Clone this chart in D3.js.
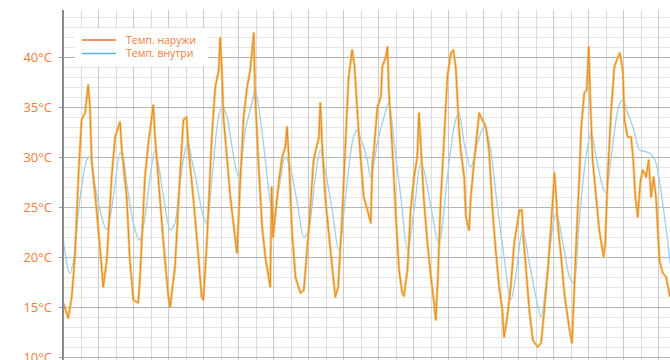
<!DOCTYPE html>
<html>
<head>
<meta charset="utf-8">
<script src="https://cdn.jsdelivr.net/npm/d3@7"></script>
<style>
  html, body { margin: 0; padding: 0; background: #fff; }
  svg { display: block; font-family: "Open Sans", "Noto Sans", sans-serif; }
</style>
</head>
<body>
<svg id="chart" width="670" height="360"></svg>
<script>
// days since start of the plot, temperature in °C
const outside = [
  [0.01, 15.4], [0.15, 13.9], [0.25, 16.0], [0.34, 20.0], [0.44, 28.0], [0.53, 33.7], [0.63, 34.4], [0.72, 37.2],
  [0.77, 35.0], [0.82, 29.7], [0.96, 24.7], [1.11, 18.7], [1.15, 17.0], [1.25, 19.7], [1.39, 28.0], [1.49, 32.0],
  [1.58, 33.0], [1.63, 33.5], [1.68, 30.7], [1.82, 26.0], [1.91, 19.7], [2.01, 15.7], [2.15, 15.4], [2.20, 18.0],
  [2.34, 28.0], [2.44, 31.4], [2.58, 35.2], [2.63, 32.0], [2.72, 28.0], [2.87, 21.4], [3.01, 16.0], [3.06, 15.0],
  [3.20, 19.0], [3.34, 28.0], [3.44, 33.7], [3.53, 34.0], [3.58, 31.0], [3.72, 26.0], [3.87, 20.0], [3.96, 16.0],
  [4.01, 15.7], [4.11, 21.4], [4.25, 32.0], [4.35, 37.0], [4.45, 38.7], [4.49, 41.9], [4.54, 38.5], [4.59, 33.7],
  [4.69, 29.7], [4.78, 26.0], [4.88, 23.0], [4.97, 20.4], [5.07, 28.0], [5.16, 34.0], [5.26, 37.0], [5.35, 38.7],
  [5.45, 42.4], [5.49, 36.0], [5.59, 29.0], [5.69, 23.0], [5.78, 20.0], [5.92, 17.0], [5.96, 27.0], [6.00, 22.0],
  [6.16, 27.4], [6.26, 30.0], [6.35, 31.0], [6.40, 33.0], [6.45, 30.0], [6.54, 22.7], [6.64, 18.0], [6.78, 16.4],
  [6.88, 16.7], [7.02, 22.7], [7.16, 29.7], [7.31, 32.0], [7.35, 35.4], [7.40, 31.5], [7.49, 26.0], [7.64, 20.7],
  [7.78, 16.0], [7.86, 17.0], [7.97, 23.7], [8.07, 31.4], [8.16, 38.0], [8.26, 40.7], [8.33, 39.0], [8.40, 35.0],
  [8.49, 30.4], [8.59, 26.0], [8.69, 24.8], [8.79, 23.4], [8.84, 29.4], [8.89, 31.0], [8.98, 35.0], [9.08, 36.0],
  [9.12, 39.0], [9.22, 40.0], [9.27, 41.0], [9.31, 36.5], [9.41, 30.7], [9.51, 24.0], [9.60, 18.7], [9.69, 16.4],
  [9.74, 16.1], [9.84, 18.7], [9.93, 24.7], [10.03, 28.0], [10.12, 30.0], [10.17, 34.4], [10.24, 30.0], [10.31, 25.7],
  [10.41, 21.4], [10.51, 18.0], [10.60, 15.4], [10.65, 13.7], [10.71, 18.0], [10.79, 25.7], [10.89, 32.0], [10.98, 38.0],
  [11.08, 40.4], [11.15, 40.7], [11.22, 39.0], [11.31, 33.0], [11.36, 30.7], [11.46, 28.0], [11.51, 24.0], [11.60, 22.7],
  [11.65, 26.0], [11.74, 29.4], [11.89, 34.4], [11.98, 33.7], [12.08, 33.0], [12.17, 30.7], [12.27, 24.7], [12.36, 20.7],
  [12.46, 17.0], [12.55, 14.7], [12.60, 12.0], [12.68, 13.7], [12.79, 17.0], [12.89, 21.4], [12.98, 23.4], [13.04, 24.7],
  [13.11, 24.7], [13.15, 22.0], [13.23, 18.7], [13.32, 14.7], [13.42, 11.7], [13.56, 11.0], [13.66, 11.4], [13.75, 14.7],
  [13.85, 18.7], [13.94, 23.0], [14.04, 28.4], [14.09, 26.0], [14.13, 23.4], [14.23, 20.0], [14.32, 16.4], [14.47, 12.7],
  [14.54, 11.4], [14.58, 14.7], [14.66, 21.4], [14.75, 28.0], [14.80, 32.7], [14.89, 36.4], [14.96, 36.7], [15.02, 41.0],
  [15.06, 36.0], [15.13, 29.7], [15.23, 26.0], [15.32, 22.7], [15.44, 20.0], [15.49, 21.4], [15.56, 28.0], [15.66, 34.7],
  [15.75, 39.0], [15.85, 40.0], [15.91, 40.4], [15.99, 38.7], [16.04, 33.7], [16.13, 32.0], [16.23, 32.0], [16.29, 29.7],
  [16.35, 26.0], [16.42, 24.0], [16.49, 27.4], [16.56, 28.7], [16.66, 28.0], [16.73, 29.7], [16.80, 26.0], [16.87, 28.0],
  [16.94, 26.0], [17.04, 19.7], [17.13, 18.4], [17.23, 18.0], [17.34, 16.0]
];

const inside = [
  [0.01, 21.7], [0.20, 18.4], [0.29, 19.5], [0.49, 26.0], [0.68, 29.7], [0.77, 30.0], [0.87, 28.0], [1.06, 24.7],
  [1.25, 22.7], [1.44, 26.0], [1.63, 30.4], [1.72, 30.0], [1.82, 27.4], [2.01, 23.4], [2.20, 21.7], [2.34, 24.0],
  [2.49, 28.0], [2.63, 30.7], [2.72, 29.4], [2.87, 26.0], [3.06, 22.7], [3.20, 23.4], [3.34, 27.4], [3.49, 30.7],
  [3.58, 31.4], [3.68, 29.7], [3.82, 27.4], [3.96, 24.7], [4.11, 23.4], [4.26, 28.0], [4.40, 33.0], [4.54, 35.0],
  [4.69, 34.0], [4.83, 31.0], [5.02, 28.0], [5.21, 32.7], [5.40, 35.4], [5.49, 36.7], [5.59, 35.0], [5.78, 29.7],
  [5.92, 25.4], [6.02, 24.0], [6.16, 26.7], [6.35, 30.0], [6.49, 29.0], [6.69, 25.4], [6.88, 22.0], [7.02, 22.7],
  [7.21, 28.0], [7.35, 30.7], [7.49, 28.7], [7.69, 24.7], [7.88, 20.7], [8.07, 26.0], [8.26, 31.4], [8.40, 32.7],
  [8.49, 32.0], [8.69, 29.7], [8.79, 28.0], [8.98, 31.4], [9.17, 34.0], [9.31, 35.4], [9.46, 31.4], [9.65, 26.0],
  [9.84, 20.7], [10.03, 24.7], [10.22, 29.4], [10.31, 28.7], [10.51, 25.0], [10.74, 21.4], [10.98, 28.0], [11.17, 33.0],
  [11.31, 34.4], [11.46, 31.4], [11.65, 29.0], [11.84, 31.4], [12.03, 33.0], [12.22, 30.7], [12.41, 25.0], [12.60, 20.0],
  [12.79, 15.7], [12.93, 18.0], [13.13, 22.7], [13.32, 19.4], [13.51, 16.0], [13.66, 14.0], [13.80, 17.4], [13.99, 23.0],
  [14.09, 24.4], [14.28, 21.4], [14.47, 18.0], [14.61, 17.4], [14.75, 23.7], [14.94, 30.0], [15.09, 32.4], [15.23, 30.0],
  [15.42, 27.0], [15.51, 26.4], [15.66, 30.0], [15.85, 34.7], [15.99, 35.7], [16.13, 34.4], [16.28, 33.0], [16.47, 30.7],
  [16.75, 30.4], [16.94, 29.4], [17.13, 25.4], [17.28, 21.4], [17.34, 19.4]
];

const yTicks = [10, 15, 20, 25, 30, 35, 40];
const seriesNames = ["Темп. наружи", "Темп. внутри"];

const width = 670;
const height = 360;
const margin = { top: 10, left: 63 };
const accent = "#f47c3c";

const svg = d3.select("#chart");

const x = d3.scaleLinear().domain([0, 17.34]).range([margin.left, width]);
const y = d3.scaleLinear().domain([10, 40]).range([357, 57]);
const yTop = y.invert(margin.top);
const yBottom = y.invert(height);

const grid = svg.append("g");

// horizontal grid: 1°C minor, 5°C major
grid.selectAll("line.hminor")
  .data(d3.range(Math.ceil(yBottom), Math.floor(yTop) + 1).filter((v) => v % 5 !== 0))
  .join("line")
  .attr("x1", margin.left).attr("x2", width)
  .attr("y1", (v) => y(v) + 0.5).attr("y2", (v) => y(v) + 0.5)
  .attr("stroke", "#e6e6e6");

// vertical grid: 12 h minor, 24 h major
grid.selectAll("line.vminor")
  .data(d3.range(0.5, 17.34, 1))
  .join("line")
  .attr("x1", (d) => Math.round(x(d)) + 0.5).attr("x2", (d) => Math.round(x(d)) + 0.5)
  .attr("y1", margin.top).attr("y2", height)
  .attr("stroke", "#dcdcdc");

grid.selectAll("line.vmajor")
  .data(d3.range(1, 17.34, 1))
  .join("line")
  .attr("x1", (d) => Math.round(x(d)) + 0.5).attr("x2", (d) => Math.round(x(d)) + 0.5)
  .attr("y1", margin.top).attr("y2", height)
  .attr("stroke", "#cacaca");

grid.selectAll("line.hmajor")
  .data(yTicks)
  .join("line")
  .attr("x1", margin.left).attr("x2", width)
  .attr("y1", (v) => y(v) + 0.5).attr("y2", (v) => y(v) + 0.5)
  .attr("stroke", "#b4b4b4");

// lines
const outsideLine = d3.line().x((d) => x(d[0])).y((d) => y(d[1]));
const insideLine = d3.line().x((d) => x(d[0])).y((d) => y(d[1])).curve(d3.curveMonotoneX);

svg.append("path")
  .datum(inside)
  .attr("fill", "none")
  .attr("stroke", "#a3cee4")
  .attr("stroke-width", 1.3)
  .attr("d", insideLine);

svg.append("path")
  .datum(outside)
  .attr("fill", "none")
  .attr("stroke", "#f3b548")
  .attr("stroke-opacity", 0.75)
  .attr("stroke-width", 2.6)
  .attr("stroke-linejoin", "round")
  .attr("d", outsideLine);

svg.append("path")
  .datum(outside)
  .attr("fill", "none")
  .attr("stroke", "#e5892a")
  .attr("stroke-width", 1)
  .attr("stroke-linejoin", "round")
  .attr("d", outsideLine);

// y axis
const yAxis = svg.append("g")
  .attr("transform", `translate(${margin.left},0)`)
  .call(d3.axisLeft(y).tickValues(yTicks).tickSize(4).tickPadding(7).tickFormat((v) => `${v}°C`));
yAxis.select(".domain").remove();
yAxis.selectAll(".tick line").attr("stroke", "#999");
yAxis.selectAll(".tick text")
  .attr("fill", accent)
  .attr("font-size", 13)
  .attr("font-family", "'Open Sans', 'Noto Sans', sans-serif");

svg.append("line")
  .attr("x1", margin.left).attr("x2", margin.left)
  .attr("y1", margin.top).attr("y2", height)
  .attr("stroke", "#8a8a8a")
  .attr("stroke-width", 2);

// legend
const legend = svg.append("g").attr("transform", "translate(75,28)");
legend.append("rect").attr("width", 133).attr("height", 38).attr("fill", "#fff");
[
  { label: seriesNames[0], color: "#f07030" },
  { label: seriesNames[1], color: "#5ab4e5" },
].forEach((item, index) => {
  const row = legend.append("g").attr("transform", `translate(0, ${12 + index * 13.5})`);
  row.append("line").attr("x1", 7).attr("x2", 41).attr("stroke", item.color).attr("stroke-width", 1.3);
  row.append("text")
    .attr("x", 51).attr("y", 3.5)
    .text(item.label)
    .attr("fill", accent)
    .attr("font-size", 10.5);
});
</script>
</body>
</html>
